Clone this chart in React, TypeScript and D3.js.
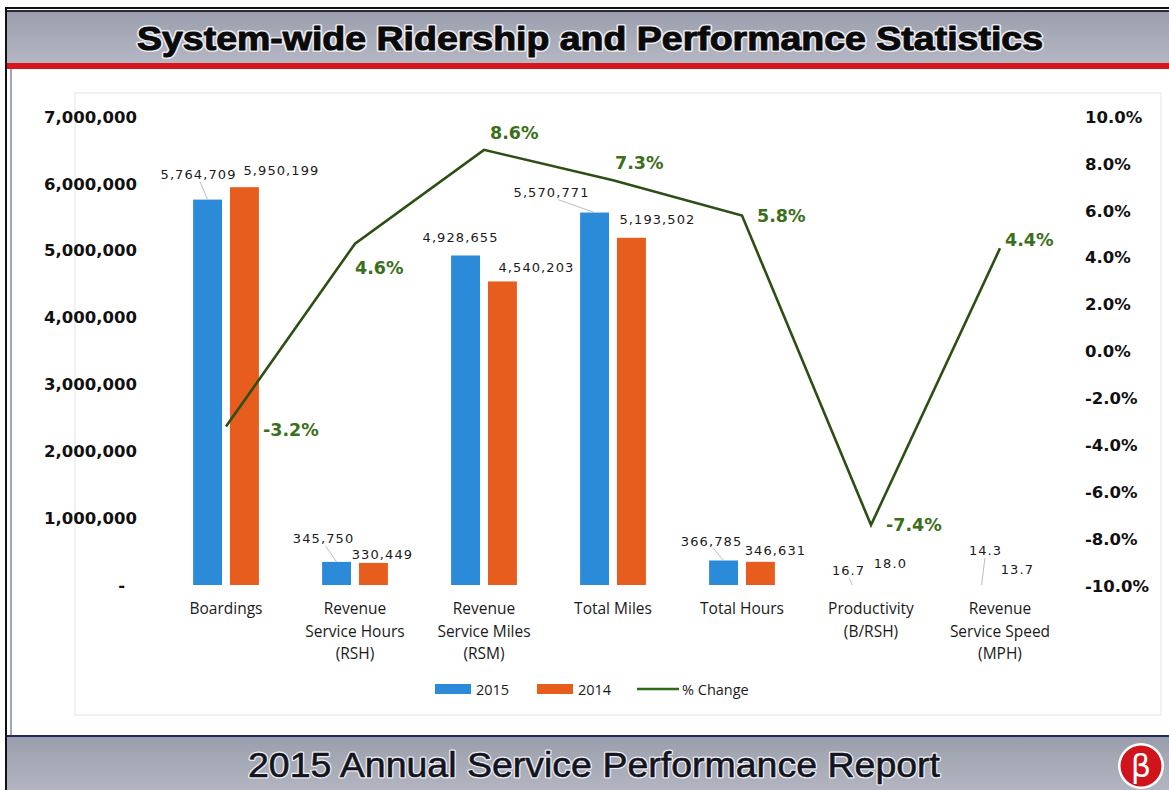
import { useEffect, useRef } from "react";
import * as d3 from "d3";

const categories = [
  ["Boardings"],
  ["Revenue", "Service Hours", "(RSH)"],
  ["Revenue", "Service Miles", "(RSM)"],
  ["Total Miles"],
  ["Total Hours"],
  ["Productivity", "(B/RSH)"],
  ["Revenue", "Service Speed", "(MPH)"],
];
const series = ["2015", "2014"];
const values2015 = [5764709, 345750, 4928655, 5570771, 366785, 16.7, 14.3];
const values2014 = [5950199, 330449, 4540203, 5193502, 346631, 18.0, 13.7];
const pctChange = [-3.2, 4.6, 8.6, 7.3, 5.8, -7.4, 4.4];
const leftTicks = [0, 1000000, 2000000, 3000000, 4000000, 5000000, 6000000, 7000000];
const rightTicks = [-10, -8, -6, -4, -2, 0, 2, 4, 6, 8, 10];

const W = 1169;
const H = 790;
const colors: Record<string, string> = { "2015": "#2b8bd9", "2014": "#e65d1d" };
const lineColor = "#2c4f14";
const labelGreen = "#3b6f1a";

// label nudges (dx, dy from bar top centre), manual like the excel original
const barLabelNudge: Record<string, [number, number, boolean][]> = {
  "2015": [[-9, -25, true], [-13, -23, true], [-5, -18, false], [-43, -20, true], [-12, -19, true], [-4, -14, true], [4, -34, true]],
  "2014": [[37, -17, false], [9, -8, false], [34, -14, false], [26, -18, false], [15, -11, false], [1, -21, false], [-1, -15, false]],
};
const pctNudge: [number, number][] = [[37, 3], [0, 24], [6, -17], [2, -17], [15, 1], [15, 0], [5, -8]];

const loc = d3.formatLocale({ decimal: ".", thousands: ",", grouping: [3], currency: ["$", ""], minus: "-" });

export default function App() {
  const svgRef = useRef<SVGSVGElement>(null);

  useEffect(() => {
    const svg = d3.select(svgRef.current);
    svg.selectAll("*").remove();

    const defs = svg.append("defs");
    const grad = defs.append("linearGradient").attr("id", "barGrad").attr("x1", 0).attr("x2", 0).attr("y1", 0).attr("y2", 1);
    grad.append("stop").attr("offset", "0%").attr("stop-color", "#9a9eac");
    grad.append("stop").attr("offset", "100%").attr("stop-color", "#b5b8c3");

    svg.append("rect").attr("width", W).attr("height", H).attr("fill", "#fff");

    // outer frame
    svg.append("rect").attr("x", 6).attr("y", 8).attr("width", W).attr("height", H).attr("fill", "none").attr("stroke", "#111").attr("stroke-width", 2);
    svg.append("line").attr("x1", 11).attr("x2", 11).attr("y1", 64).attr("y2", 736).attr("stroke", "#3a4a8a").attr("stroke-width", 1);

    // chart panel
    svg.append("rect").attr("x", 75).attr("y", 93).attr("width", 1086).attr("height", 622).attr("fill", "#fff").attr("stroke", "#e3e5ea");

    // title bar
    svg.append("rect").attr("x", 7).attr("y", 11).attr("width", W).attr("height", 52).attr("fill", "url(#barGrad)");
    svg.append("line").attr("x1", 7).attr("x2", W).attr("y1", 11).attr("y2", 11).attr("stroke", "#2a2a3a").attr("stroke-width", 2);
    svg.append("rect").attr("x", 7).attr("y", 63).attr("width", W).attr("height", 6).attr("fill", "#d7161e");
    const title = "System-wide Ridership and Performance Statistics";
    [
      { fill: "#e9e9f0", stroke: "#e9e9f0", sw: 4 },
      { fill: "#0a0a0a", stroke: "#0a0a0a", sw: 1 },
    ].forEach((st) => {
      svg.append("text")
        .attr("x", 590).attr("y", 50)
        .attr("text-anchor", "middle")
        .attr("textLength", 906).attr("lengthAdjust", "spacingAndGlyphs")
        .style("font-family", "'Liberation Sans', Arial, sans-serif")
        .style("font-weight", 900).style("font-size", "33px")
        .style("fill", st.fill).style("stroke", st.stroke).style("stroke-width", st.sw)
        .style("stroke-linejoin", "round")
        .text(title);
    });

    // bottom bar
    svg.append("rect").attr("x", 7).attr("y", 736).attr("width", W).attr("height", 60).attr("fill", "url(#barGrad)");
    svg.append("line").attr("x1", 7).attr("x2", W).attr("y1", 736).attr("y2", 736).attr("stroke", "#1e2a5a").attr("stroke-width", 2);
    const footer = "2015 Annual Service Performance Report";
    [
      { fill: "#eef0f5", stroke: "#eef0f5", sw: 3 },
      { fill: "#141420", stroke: "#141420", sw: 0.6 },
    ].forEach((st) => {
      svg.append("text")
        .attr("x", 594).attr("y", 777)
        .attr("text-anchor", "middle")
        .attr("textLength", 692).attr("lengthAdjust", "spacingAndGlyphs")
        .style("font-family", "'Liberation Sans', Arial, sans-serif")
        .style("font-size", "35px")
        .style("fill", st.fill).style("stroke", st.stroke).style("stroke-width", st.sw)
        .style("stroke-linejoin", "round")
        .text(footer);
    });

    // logo
    const logo = svg.append("g").attr("transform", "translate(1141,766)");
    logo.append("circle").attr("r", 23).attr("fill", "#fff");
    logo.append("circle").attr("r", 20.5).attr("fill", "#d0141c");
    logo.append("text").attr("y", 11).attr("text-anchor", "middle")
      .style("font-family", "'DejaVu Sans', sans-serif").style("font-size", "32px").style("fill", "#fff")
      .text("β");

    // scales
    const x0 = d3.scaleBand().domain(categories.map((c) => c.join(" "))).range([161.5, 1064.5]);
    const bw = x0.bandwidth();
    const x1 = d3.scaleBand().domain(series).range([bw * 0.245, bw * 0.755]).paddingInner(0.216);
    const yL = d3.scaleLinear().domain([0, 7000000]).range([585, 117]);
    const yR = d3.scaleLinear().domain([-10, 10]).range([586, 117]);

    const axisFont = "'DejaVu Sans', Verdana, sans-serif";
    const fmtLeft = (d: number) => (d === 0 ? "-" : loc.format(",")(d));

    const gl = svg.append("g").attr("transform", "translate(137,0)")
      .call(d3.axisLeft(yL).tickValues(leftTicks).tickFormat(fmtLeft as any).tickSize(0).tickPadding(0));
    gl.select(".domain").remove();
    gl.selectAll("text").style("font-family", axisFont).style("font-weight", "bold").style("font-size", "16.5px").style("fill", "#111");
    gl.selectAll<SVGTextElement, number>("text").attr("dx", (d) => (d === 0 ? -12 : 0));

    const gr = svg.append("g").attr("transform", "translate(1085,0)")
      .call(d3.axisRight(yR).tickValues(rightTicks).tickFormat((d) => loc.format(".1f")(d as number) + "%").tickSize(0).tickPadding(0));
    gr.select(".domain").remove();
    gr.selectAll("text").style("font-family", axisFont).style("font-weight", "bold").style("font-size", "16.5px").style("fill", "#111");

    // category labels
    const catG = svg.append("g");
    categories.forEach((lines) => {
      const cx = (x0(lines.join(" ")) as number) + bw / 2;
      const t = catG.append("text").attr("text-anchor", "middle")
        .style("font-family", "'Open Sans', sans-serif").style("font-size", "15.5px").style("fill", "#1a1a1a");
      lines.forEach((ln, j) => {
        t.append("tspan").attr("x", cx).attr("y", 614 + j * 22.5).text(ln);
      });
    });

    // bars
    const valuesBy: Record<string, number[]> = { "2015": values2015, "2014": values2014 };
    const fmtVal = (v: number) => (v >= 1000 ? loc.format(",")(v) : loc.format(".1f")(v));
    const barG = svg.append("g");
    const labG = svg.append("g");
    series.forEach((s) => {
      valuesBy[s].forEach((v, i) => {
        const bx = (x0(categories[i].join(" ")) as number) + (x1(s) as number);
        const top = yL(v);
        barG.append("rect")
          .attr("x", bx).attr("y", top)
          .attr("width", x1.bandwidth()).attr("height", yL(0) - top)
          .attr("fill", colors[s]);
        const [dx, dy, leader] = barLabelNudge[s][i];
        const cx = bx + x1.bandwidth() / 2;
        const lx = cx + dx;
        const ly = top + dy;
        if (leader) {
          labG.append("line")
            .attr("x1", lx + dx * -0.15).attr("y1", ly + 7)
            .attr("x2", cx).attr("y2", top)
            .attr("stroke", "#b9bcc4").attr("stroke-width", 1);
        }
        labG.append("text")
          .attr("x", lx).attr("y", ly + 4.5)
          .attr("text-anchor", "middle")
          .style("font-family", axisFont).style("font-size", "13px").style("letter-spacing", "1.1px")
          .style("fill", "#1a1a1a")
          .text(fmtVal(v));
      });
    });

    // % change line
    const pts = pctChange.map((p, i) => [(x0(categories[i].join(" ")) as number) + bw / 2, yR(p)] as [number, number]);
    svg.append("path")
      .attr("d", d3.line()(pts))
      .attr("fill", "none")
      .attr("stroke", lineColor)
      .attr("stroke-width", 2.6)
      .attr("stroke-linejoin", "miter");

    pctChange.forEach((p, i) => {
      const [px, py] = pts[i];
      const [dx, dy] = pctNudge[i];
      svg.append("text")
        .attr("x", px + dx).attr("y", py + dy + 6)
        .style("font-family", axisFont).style("font-weight", "bold").style("font-size", "17.5px")
        .style("fill", labelGreen)
        .text(loc.format(".1f")(p) + "%");
    });

    // legend
    const leg = svg.append("g").attr("transform", "translate(0,689)");
    const legFont = "'Open Sans', sans-serif";
    series.forEach((s, i) => {
      const lx = 435 + i * 102;
      leg.append("rect").attr("x", lx).attr("y", -5).attr("width", 36).attr("height", 10).attr("fill", colors[s]);
      leg.append("text").attr("x", lx + 41).attr("y", 5.5)
        .style("font-family", legFont).style("font-size", "14.5px").style("fill", "#1a1a1a").text(s);
    });
    leg.append("line").attr("x1", 637).attr("x2", 679).attr("y1", 0).attr("y2", 0).attr("stroke", "#2f6a1a").attr("stroke-width", 2.6);
    leg.append("text").attr("x", 682).attr("y", 5.5)
      .style("font-family", legFont).style("font-size", "14.5px").style("fill", "#1a1a1a").text("% Change");
  }, []);

  return (
    <div style={{ position: "absolute", left: 0, top: 0 }}>
      <svg ref={svgRef} width={W} height={H} style={{ display: "block" }} />
    </div>
  );
}
